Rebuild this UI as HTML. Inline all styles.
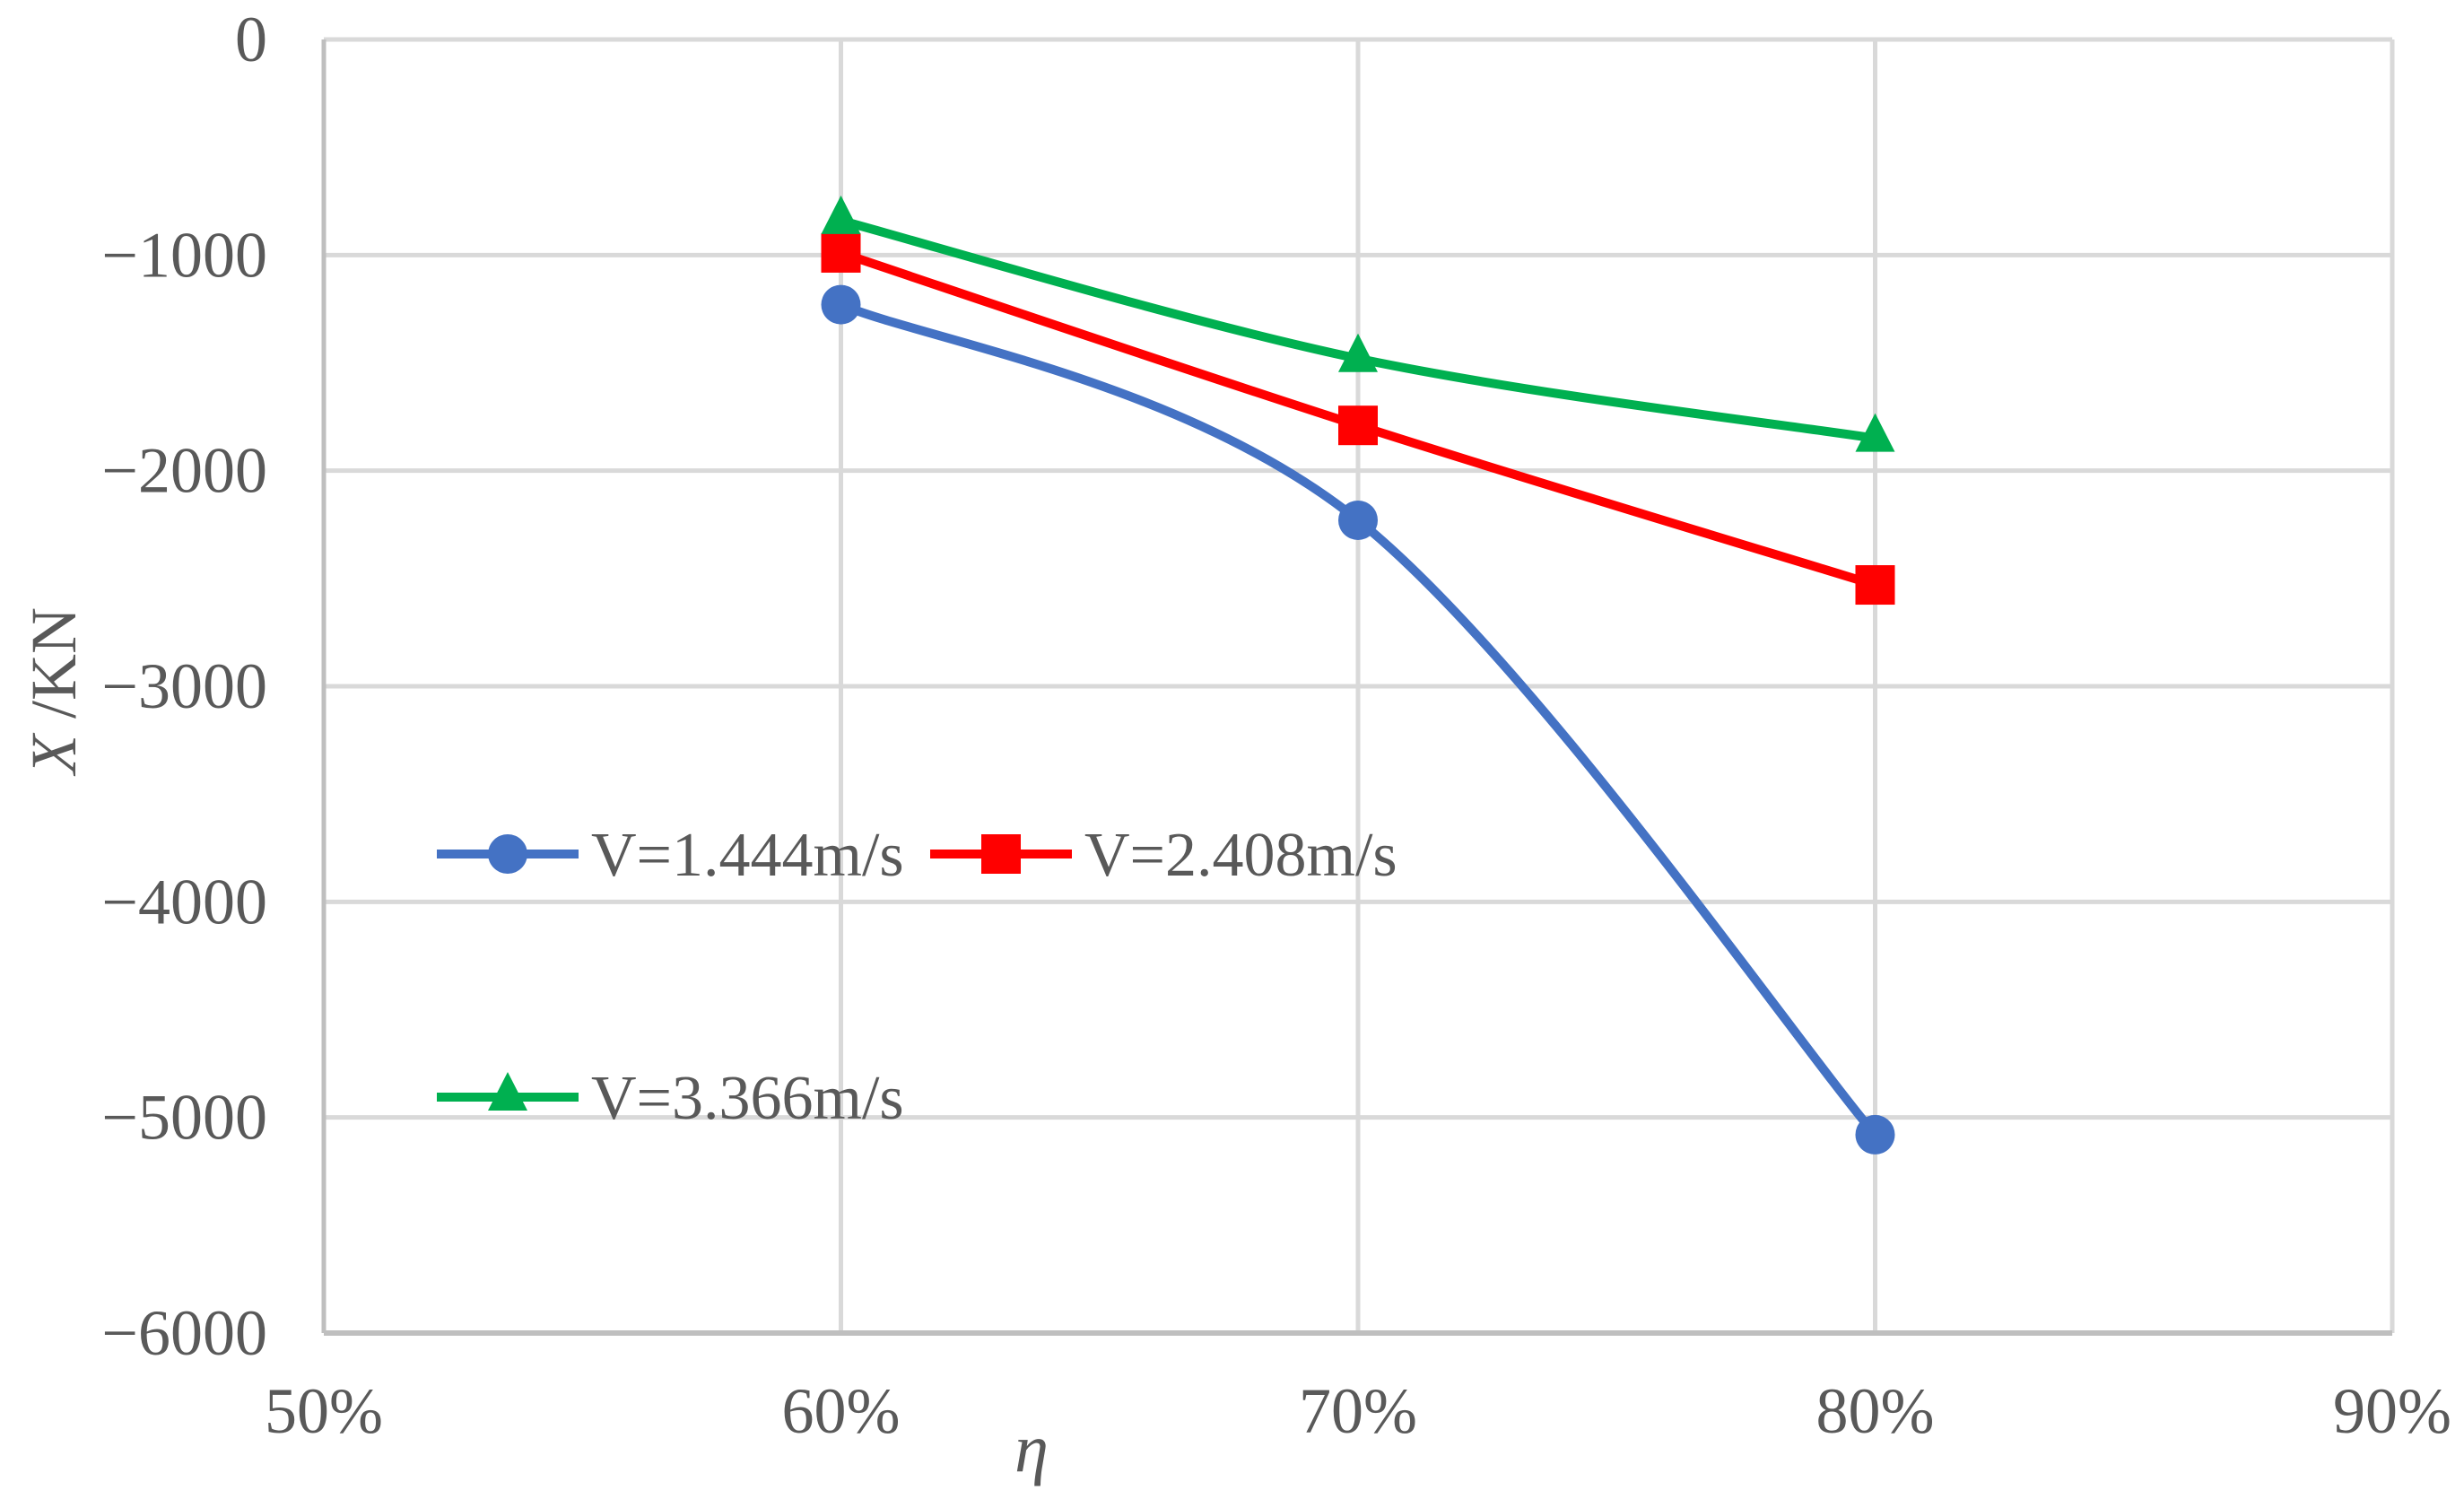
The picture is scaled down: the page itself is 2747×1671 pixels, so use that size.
<!DOCTYPE html>
<html><head><meta charset="utf-8"><style>
html,body{margin:0;padding:0;background:#fff;}
svg{display:block;font-family:"Liberation Serif",serif;}
</style></head><body>
<svg id="chart" width="2747" height="1671" viewBox="0 0 2747 1671" xmlns="http://www.w3.org/2000/svg">
<g id="grid"></g>
<g id="axes"></g>
<g id="series"></g>
<g id="legend"></g>
<text transform="translate(84,770) rotate(-90)" text-anchor="middle" font-size="72" fill="#595959"><tspan font-style="italic">X</tspan>  /KN</text>
<text x="1150" y="1640" text-anchor="middle" font-size="76" font-style="italic" fill="#595959">η</text>
</svg>
<script>
const xTicks = [0.5, 0.6, 0.7, 0.8, 0.9];
const xTickLabels = ["50%", "60%", "70%", "80%", "90%"];
const yTicks = [0, -1000, -2000, -3000, -4000, -5000, -6000];
const yTickLabels = ["0", "−1000", "−2000", "−3000", "−4000", "−5000", "−6000"];
const xValues = [0.6, 0.7, 0.8];
const seriesA = [-1230, -2230, -5080];
const seriesB = [-990, -1790, -2530];
const seriesC = [-840, -1480, -1850];
const seriesNames = ["V=1.444m/s", "V=2.408m/s", "V=3.366m/s"];

const L = 361, R = 2667, T = 44, B = 1486;
const NS = "http://www.w3.org/2000/svg";
function sx(v){ return L + (v - 0.5) / 0.4 * (R - L); }
function sy(v){ return T + (0 - v) / 6000 * (B - T); }
function mk(tag, attrs, parent){
  const e = document.createElementNS(NS, tag);
  for (const k in attrs) e.setAttribute(k, attrs[k]);
  parent.appendChild(e); return e;
}
const grid = document.getElementById('grid');
const axes = document.getElementById('axes');
yTicks.forEach((t, i) => {
  const y = sy(t);
  if (i < yTicks.length - 1) {
    const g = mk('line', {x1:L, x2:R, y1:y, y2:y, stroke:'#d9d9d9', 'stroke-width':5}, grid);
    
    
  }
  const lb = mk('text', {x:298, y:y+24, 'text-anchor':'end', 'font-size':72, fill:'#595959'}, axes);
  lb.textContent = yTickLabels[i];
  
  
});
xTicks.forEach((t, i) => {
  const x = sx(t);
  if (i > 0) {
    const g = mk('line', {x1:x, x2:x, y1:T, y2:B, stroke:'#d9d9d9', 'stroke-width':5}, grid);
    
    
  }
  const lb = mk('text', {x:x, y:1597, 'text-anchor':'middle', 'font-size':72, fill:'#595959'}, axes);
  lb.textContent = xTickLabels[i];
  
  
});
const ya = mk('line', {x1:L, x2:L, y1:T, y2:B, stroke:'#bfbfbf', 'stroke-width':5}, axes);


const xa = mk('line', {x1:L, x2:R, y1:B, y2:B, stroke:'#bfbfbf', 'stroke-width':6}, axes);



function smoothPath(pts){
  let d = 'M' + pts[0][0] + ',' + pts[0][1];
  const k = 1/6;
  for (let i = 0; i < pts.length - 1; i++) {
    const p0 = pts[Math.max(0, i-1)], p1 = pts[i], p2 = pts[i+1], p3 = pts[Math.min(pts.length-1, i+2)];
    const c1 = [p1[0] + (p2[0]-p0[0])*k, p1[1] + (p2[1]-p0[1])*k];
    const c2 = [p2[0] - (p3[0]-p1[0])*k, p2[1] - (p3[1]-p1[1])*k];
    d += ' C' + c1 + ' ' + c2 + ' ' + p2;
  }
  return d;
}
function marker(type, x, y, color, parent){
  let m;
  if (type === 'circle') m = mk('circle', {cx:x, cy:y, r:22, fill:color}, parent);
  else if (type === 'square') m = mk('rect', {x:x-22, y:y-22, width:44, height:44, fill:color}, parent);
  else m = mk('polygon', {points:(x)+','+(y-28)+' '+(x+22)+','+(y+15)+' '+(x-22)+','+(y+15), fill:color}, parent);
  return m;
}
const seriesEl = document.getElementById('series');
const defs = [
  {vals: seriesA, color:'#4472c4', type:'circle', name:'series-v1444'},
  {vals: seriesB, color:'#ff0000', type:'square', name:'series-v2408'},
  {vals: seriesC, color:'#00b050', type:'triangle', name:'series-v3366'}
];
defs.forEach(s => {
  const g = mk('g', {}, seriesEl);
  
  
  const pts = xValues.map((xv, i) => [sx(xv), sy(s.vals[i])]);
  const p = mk('path', {d:smoothPath(pts), fill:'none', stroke:s.color, 'stroke-width':10, 'stroke-linejoin':'round'}, g);
  
  
  pts.forEach(pt => {
    const m = marker(s.type, pt[0], pt[1], s.color, g);
    
    
  });
});
const legend = document.getElementById('legend');
const legPos = [[487, 952], [1037, 952], [487, 1223]];
defs.forEach((s, i) => {
  const [x0, y0] = legPos[i];
  const g = mk('g', {}, legend);
  
  
  mk('line', {x1:x0, x2:x0+158, y1:y0, y2:y0, stroke:s.color, 'stroke-width':10}, g);
  marker(s.type, x0+79, y0, s.color, g);
  const t = mk('text', {x:x0+172, y:y0+24, 'font-size':70, fill:'#595959'}, g);
  t.textContent = seriesNames[i];
});
</script>
</body></html>
